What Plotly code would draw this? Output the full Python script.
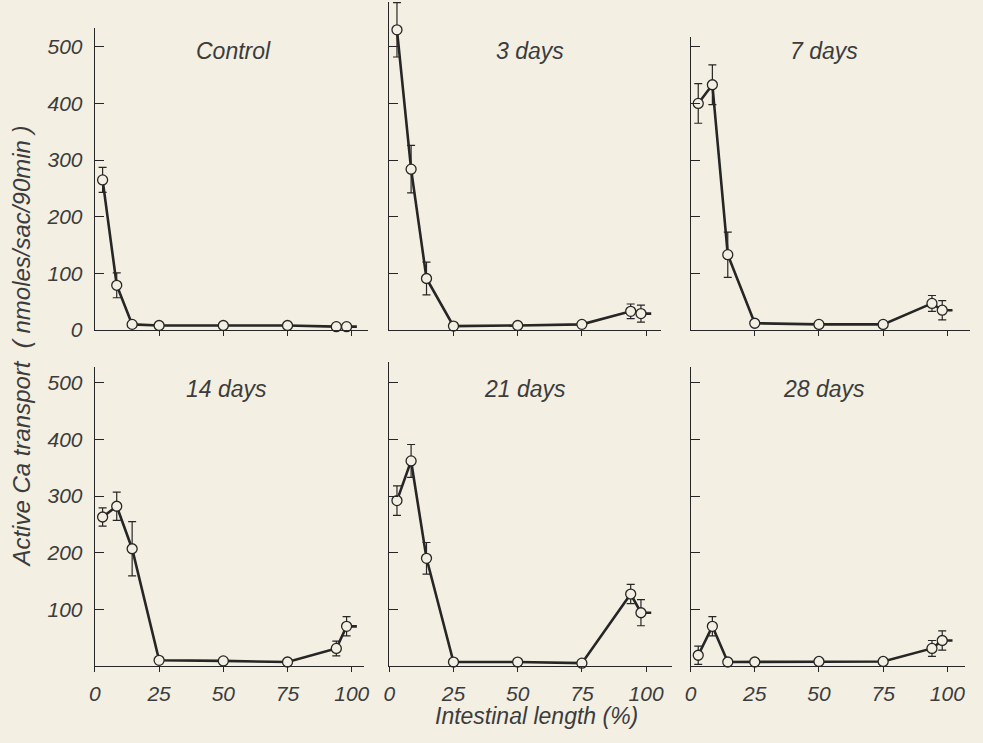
import plotly.graph_objects as go

# Sampling positions along the intestine (% of total length)
segment_pct = [3, 8.5, 14.5, 25, 50, 75, 94, 98]

panel_titles = ["Control", "3 days", "7 days", "14 days", "21 days", "28 days"]

# Active Ca transport (nmoles/sac/90min), mean values per segment
control_mean = [265, 79, 10, 8, 8, 8, 6, 6]
day3_mean = [530, 284, 91, 7, 8, 10, 33, 29]
day7_mean = [400, 433, 133, 12, 10, 10, 47, 35]
day14_mean = [263, 282, 207, 10, 9, 7, 31, 70]
day21_mean = [292, 362, 190, 7, 7, 5, 127, 94]
day28_mean = [19, 70, 7, 7, 8, 8, 31, 45]

# Standard errors (None where no bar is drawn)
control_se = [22, 22, None, None, None, None, None, None]
day3_se = [48, 42, 29, None, None, None, 13, 15]
day7_se = [35, 35, 40, None, None, None, 14, 17]
day14_se = [16, 25, 48, None, None, None, 13, 17]
day21_se = [26, 29, 28, None, None, None, 17, 23]
day28_se = [16, 17, None, None, None, None, 14, 17]

y_ticks = [100, 200, 300, 400, 500]
x_ticks = [0, 25, 50, 75, 100]

means = [control_mean, day3_mean, day7_mean, day14_mean, day21_mean, day28_mean]
errors = [control_se, day3_se, day7_se, day14_se, day21_se, day28_se]

W, H = 983, 743
PAPER = "#f3efe2"
INK = "#262626"
TEXT = "#3c3c3c"
FONT = "Liberation Sans, Arial, sans-serif"

# pixel layout of the 2x3 grid
col_x0 = [90, 388, 693]
row_y0 = [335, 676]
px_per_x = 2.6
px_per_y = 0.575
x_end = [106.5, 105.8, 108.8, 104.6, 110.0, 107.0]
y_end = [534, 579, 518, 527, 537, 527]

fig = go.Figure()
layout = {}

for i in range(6):
    r, c = divmod(i, 3)
    n = "" if i == 0 else str(i + 1)
    x0 = col_x0[c]
    x1 = x0 + x_end[i] * px_per_x
    yb = row_y0[r]
    yt = yb - y_end[i] * px_per_y

    tail = [None] * (len(segment_pct) - 1) + [4]
    tail_minus = [None] * (len(segment_pct) - 1) + [0]

    fig.add_trace(go.Scatter(
        x=segment_pct, y=means[i],
        xaxis="x" + n, yaxis="y" + n,
        mode="lines+markers",
        line=dict(color=INK, width=2.6),
        marker=dict(symbol="circle", size=10, color=PAPER,
                    line=dict(color=INK, width=1.3)),
        error_y=dict(type="data", array=errors[i], visible=True,
                     color=INK, thickness=1.2, width=4),
        error_x=dict(type="data", symmetric=False, array=tail,
                     arrayminus=tail_minus, visible=True,
                     color=INK, thickness=2.6, width=0),
        showlegend=False, hoverinfo="skip", cliponaxis=False,
    ))

    bottom_row = r == 1
    first_col = c == 0
    layout["xaxis" + n] = dict(
        domain=[x0 / W, x1 / W],
        range=[0, x_end[i]],
        anchor="y" + n,
        showline=True, linecolor=INK, linewidth=1.3,
        showgrid=False, zeroline=False,
        tickvals=x_ticks if bottom_row else [25, 50, 75, 100],
        ticks="outside", ticklen=5, tickcolor=INK, tickwidth=1.2,
        showticklabels=bottom_row,
        ticklabelstandoff=4,
        tickfont=dict(family=FONT, size=21, color=TEXT, style="italic"),
    )
    ytv = ([0] + y_ticks) if i == 0 else y_ticks
    layout["yaxis" + n] = dict(
        domain=[1 - yb / H, 1 - yt / H],
        range=[0, y_end[i]],
        anchor="x" + n,
        showline=True, linecolor=INK, linewidth=1.3,
        showgrid=False, zeroline=False,
        tickvals=ytv,
        ticks="inside", ticklen=9, tickcolor=INK, tickwidth=1.2,
        showticklabels=first_col,
        ticklabelstandoff=7,
        tickfont=dict(family=FONT, size=21, color=TEXT, style="italic"),
    )

title_pos = [(230, 52), (530, 52), (828, 52), (223, 395), (525, 395), (828, 395)]
annotations = []
for (tx, ty), t in zip(title_pos, panel_titles):
    annotations.append(dict(
        text=t, x=tx / W, y=1 - ty / H, xref="paper", yref="paper",
        showarrow=False, xanchor="center", yanchor="middle",
        font=dict(family=FONT, size=23, color=TEXT, style="italic"),
    ))

annotations.append(dict(
    text="Active Ca transport  ( nmoles/sac/90min )",
    x=16 / W, y=1 - 352 / H, xref="paper", yref="paper",
    showarrow=False, textangle=-90, xanchor="center", yanchor="middle",
    font=dict(family=FONT, size=24, color=TEXT, style="italic"),
))
annotations.append(dict(
    text="Intestinal length (%)",
    x=537 / W, y=1 - 727 / H, xref="paper", yref="paper",
    showarrow=False, xanchor="center", yanchor="middle",
    font=dict(family=FONT, size=23, color=TEXT, style="italic"),
))

fig.update_layout(
    width=W, height=H,
    margin=dict(l=0, r=0, t=0, b=0),
    paper_bgcolor=PAPER, plot_bgcolor=PAPER,
    annotations=annotations,
    **layout,
)

fig.write_html("out.html")
